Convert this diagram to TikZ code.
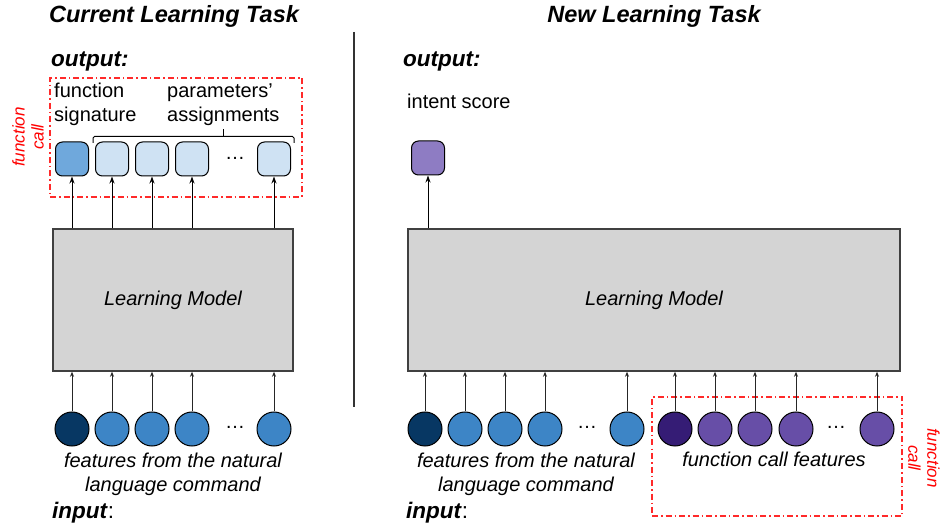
\documentclass[tikz,border=0pt]{standalone}
\usepackage{fontspec}
\setmainfont{Liberation Sans}
\usetikzlibrary{arrows.meta}
\definecolor{navy}{HTML}{073763}
\definecolor{blueA}{HTML}{3D85C6}
\definecolor{lblue}{HTML}{6FA8DC}
\definecolor{pblue}{HTML}{CFE2F3}
\definecolor{dpurp}{HTML}{351C75}
\definecolor{purp}{HTML}{674EA7}
\definecolor{lpurp}{HTML}{8E7CC3}
\definecolor{modelgray}{HTML}{D4D4D4}
\definecolor{edgegray}{HTML}{404040}
\definecolor{redline}{HTML}{FF2A2A}
\begin{document}
\begin{tikzpicture}[x=1pt,y=-1pt,
  txt/.style={inner sep=0pt, font=\fontsize{20}{24}\selectfont},
  itxt/.style={inner sep=0pt, font=\fontsize{20}{24}\selectfont\itshape},
  ttl/.style={inner sep=0pt, font=\fontsize{23.5}{28}\selectfont\bfseries\itshape},
  hdr/.style={inner sep=0pt, font=\fontsize{22.5}{27}\selectfont},
  redtxt/.style={inner sep=0pt, text=red, align=center, font=\fontsize{17}{19}\selectfont\itshape},
  sq/.style={draw=black, line width=1pt, rounded corners=7pt, minimum width=33pt, minimum height=34pt, inner sep=0pt},
  feat/.style={draw=black, line width=1pt, circle, minimum size=34pt, inner sep=0pt},
  model/.style={draw=edgegray, fill=modelgray, line width=1.5pt, minimum height=142pt, inner sep=0pt, font=\fontsize{20}{24}\selectfont\itshape},
  redbox/.style={draw=redline, line width=1.3pt, dash pattern=on 6pt off 3pt on 1.5pt off 3pt, minimum width=0pt, inner sep=0pt},
  arr/.style={line width=1pt, -{Stealth[length=7pt,width=5pt]}},
  arrs/.style={line width=1pt, draw=black!85, -{Stealth[length=5pt,width=4pt]}},
  dotsn/.style={inner sep=0pt, font=\fontsize{20}{24}\selectfont}
]
\useasboundingbox (0,0) rectangle (940,526);

% titles
\node[ttl, anchor=base] (t1) at (174,23) {Current Learning Task};
\node[ttl, anchor=base] (t2) at (654,23) {New Learning Task};

% divider
\coordinate (dv1) at (354,32);
\coordinate (dv2) at (354,407);
\draw[line width=1.3pt, black!80] (dv1) -- (dv2);

% ---------- left ----------
\node[hdr, anchor=base west] (outL) at (51,67) {\textbf{\textit{output:}}};
\node[redbox, minimum width=252pt, minimum height=119pt] (fcL) at (176,137.5) {};
\node[redtxt, rotate=90] (fcLt) at (28,137) {function\\call};
\node[txt, anchor=base west, align=left] (sig) at (54,122) {function\\signature};
\node[txt, anchor=base west, align=left] (par) at (167,122) {parameters’\\assignments};
\coordinate (brl) at (93,143);
\coordinate (brr) at (294,143);
\coordinate (brt) at (223,129);
\draw[line width=1pt, rounded corners=1.5pt] (brl) -- (93,136.5) -- (294,136.5) -- (brr);
\draw[line width=1pt] (223,136.5) -- (brt);

\node[sq, fill=lblue] (o1) at (72,159) {};
\node[sq, fill=pblue] (o2) at (112,159) {};
\node[sq, fill=pblue] (o3) at (152,159) {};
\node[sq, fill=pblue] (o4) at (192,159) {};
\node[dotsn] (od) at (235,158) {…};
\node[sq, fill=pblue] (o5) at (274,159) {};

\node[model, minimum width=240pt] (mL) at (173,300) {Learning Model};

\foreach \n in {o1,o2,o3,o4,o5}
  \draw[arr] (mL.north -| \n) -- (\n.south);

\node[feat, fill=navy] (a1) at (72,429) {};
\node[feat, fill=blueA] (a2) at (112,429) {};
\node[feat, fill=blueA] (a3) at (152,429) {};
\node[feat, fill=blueA] (a4) at (192,429) {};
\node[dotsn] (ad) at (235,427) {…};
\node[feat, fill=blueA] (a5) at (274,429) {};
\foreach \n in {a1,a2,a3,a4,a5}
  \draw[arrs] (\n.north) -- (\n.north |- mL.south);

\node[itxt, anchor=base, align=center] (fL) at (173,491) {features from the natural\\language command};
\node[hdr, anchor=base west] (inL) at (52,518) {\textbf{\textit{input}}:};

% ---------- right ----------
\node[hdr, anchor=base west] (outR) at (403,67) {\textbf{\textit{output:}}};
\node[txt, anchor=base west] (isc) at (407,109) {intent score};
\node[sq, fill=lpurp] (oi) at (428,158) {};
\node[model, minimum width=492pt] (mR) at (654,300) {Learning Model};
\draw[arr] (mR.north -| oi) -- (oi.south);

\node[redbox, minimum width=250pt, minimum height=119pt] (fcR) at (777,456.5) {};
\node[redtxt, rotate=-90] (fcRt) at (924,458) {function\\call};

\node[feat, fill=navy] (b1) at (425,429) {};
\node[feat, fill=blueA] (b2) at (465,429) {};
\node[feat, fill=blueA] (b3) at (505,429) {};
\node[feat, fill=blueA] (b4) at (545,429) {};
\node[dotsn] (bd) at (587,427) {…};
\node[feat, fill=blueA] (b5) at (627,429) {};
\node[feat, fill=dpurp] (p1) at (675,429) {};
\node[feat, fill=purp] (p2) at (715,429) {};
\node[feat, fill=purp] (p3) at (755,429) {};
\node[feat, fill=purp] (p4) at (796,429) {};
\node[dotsn] (pd) at (836,427) {…};
\node[feat, fill=purp] (p5) at (877,429) {};
\foreach \n in {b1,b2,b3,b4,b5,p1,p2,p3,p4,p5}
  \draw[arrs] (\n.north) -- (\n.north |- mR.south);

\node[itxt, anchor=base, align=center] (fR) at (526,491) {features from the natural\\language command};
\node[itxt, anchor=base] (fcf) at (774,467) {function call features};
\node[hdr, anchor=base west] (inR) at (406,518) {\textbf{\textit{input}}:};
\end{tikzpicture}
\end{document}
